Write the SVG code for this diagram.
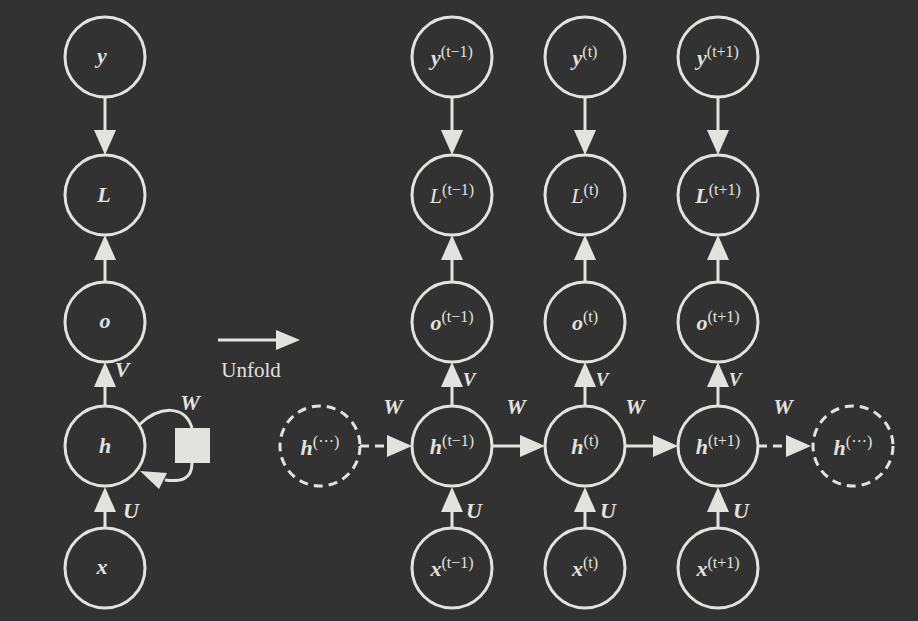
<svg xmlns="http://www.w3.org/2000/svg" width="918" height="621" viewBox="0 0 918 621">
<style>
.n{fill:none;stroke:#e2e2de;stroke-width:3}
.d{fill:none;stroke:#e2e2de;stroke-width:3;stroke-dasharray:9,6}
.l{stroke:#e2e2de;stroke-width:3;fill:none}
.h{fill:#e2e2de}
text{font-family:'Liberation Serif','DejaVu Serif','Times New Roman',serif;fill:#e2e2de;font-size:22px;text-anchor:middle}
.v{font-weight:bold;font-style:italic}
.s{font-size:16px;font-weight:normal;font-style:normal}
</style>
<rect width="918" height="621" fill="#323232"/>
<g id="connectors">
<line class="l" x1="105" y1="97" x2="105" y2="132"/><polygon class="h" points="94,130 116,130 105,155"/>
<line class="l" x1="105" y1="282" x2="105" y2="258"/><polygon class="h" points="94,260 116,260 105,235"/>
<line class="l" x1="105" y1="406" x2="105" y2="385"/><polygon class="h" points="94,387 116,387 105,362"/>
<line class="l" x1="105" y1="528" x2="105" y2="510"/><polygon class="h" points="94,512 116,512 105,487"/>
<path class="l" d="M139,425 C160,405 185,405 192,428"/>
<path class="l" d="M192,463 C192,480 180,482 165,480"/>
<polygon class="h" points="140,471 167,473 159,489"/>
<rect x="175" y="428" width="35" height="35" class="h"/>
<line class="l" x1="218" y1="340" x2="278" y2="340"/><polygon class="h" points="276,330 276,350 300,340"/>
<g id="cols">
<line class="l" x1="452" y1="97" x2="452" y2="132"/><polygon class="h" points="441,130 463,130 452,155"/>
<line class="l" x1="452" y1="282" x2="452" y2="258"/><polygon class="h" points="441,260 463,260 452,235"/>
<line class="l" x1="452" y1="406" x2="452" y2="385"/><polygon class="h" points="441,387 463,387 452,362"/>
<line class="l" x1="452" y1="528" x2="452" y2="510"/><polygon class="h" points="441,512 463,512 452,487"/>
<line class="l" x1="585" y1="97" x2="585" y2="132"/><polygon class="h" points="574,130 596,130 585,155"/>
<line class="l" x1="585" y1="282" x2="585" y2="258"/><polygon class="h" points="574,260 596,260 585,235"/>
<line class="l" x1="585" y1="406" x2="585" y2="385"/><polygon class="h" points="574,387 596,387 585,362"/>
<line class="l" x1="585" y1="528" x2="585" y2="510"/><polygon class="h" points="574,512 596,512 585,487"/>
<line class="l" x1="718" y1="97" x2="718" y2="132"/><polygon class="h" points="707,130 729,130 718,155"/>
<line class="l" x1="718" y1="282" x2="718" y2="258"/><polygon class="h" points="707,260 729,260 718,235"/>
<line class="l" x1="718" y1="406" x2="718" y2="385"/><polygon class="h" points="707,387 729,387 718,362"/>
<line class="l" x1="718" y1="528" x2="718" y2="510"/><polygon class="h" points="707,512 729,512 718,487"/>
</g>
<line class="d" x1="360" y1="446" x2="390" y2="446" stroke-dasharray="8,6"/><polygon class="h" points="387,435 387,457 412,446"/>
<line class="l" x1="492" y1="446" x2="522" y2="446"/><polygon class="h" points="520,435 520,457 545,446"/>
<line class="l" x1="625" y1="446" x2="655" y2="446"/><polygon class="h" points="653,435 653,457 678,446"/>
<line class="d" x1="758" y1="446" x2="788" y2="446" stroke-dasharray="8,6"/><polygon class="h" points="786,435 786,457 811,446"/>
</g>
<g id="edge-labels">
<text class="v" x="122" y="377">V</text>
<text class="v" x="190" y="410">W</text>
<text class="v" x="131" y="518">U</text>
<text x="251" y="377" style="font-size:21px">Unfold</text>
<text class="v" x="393" y="414">W</text>
<text class="v" x="516" y="414">W</text>
<text class="v" x="635" y="414">W</text>
<text class="v" x="783" y="414">W</text>
<text class="v" x="469" y="386" style="font-size:19px">V</text>
<text class="v" x="602" y="386" style="font-size:19px">V</text>
<text class="v" x="735" y="386" style="font-size:19px">V</text>
<text class="v" x="474" y="518">U</text>
<text class="v" x="608" y="518">U</text>
<text class="v" x="741" y="518">U</text>
</g>
<g id="n-y"><circle class="n" cx="105" cy="57" r="40"/><text class="v" x="102" y="63">y</text></g>
<g id="n-L"><circle class="n" cx="105" cy="195" r="40"/><text class="v" x="104" y="202">L</text></g>
<g id="n-o"><circle class="n" cx="105" cy="322" r="40"/><text class="v" x="105" y="328">o</text></g>
<g id="n-h"><circle class="n" cx="105" cy="446" r="40"/><text class="v" x="105" y="453">h</text></g>
<g id="n-x"><circle class="n" cx="105" cy="568" r="40"/><text class="v" x="102" y="574">x</text></g>
<g id="n-hl"><circle class="d" cx="320" cy="446" r="40"/><text class="v" x="320" y="455">h<tspan class="s" dy="-8">(···)</tspan></text></g>
<g id="n-hr"><circle class="d" cx="853" cy="446" r="40"/><text class="v" x="853" y="455">h<tspan class="s" dy="-8">(···)</tspan></text></g>
<g id="c1">
<circle class="n" cx="452" cy="57" r="40"/><text class="v" x="452" y="65">y<tspan class="s" dy="-8">(t−1)</tspan></text>
<circle class="n" cx="452" cy="195" r="40"/><text x="452" y="203" style="font-style:italic">L<tspan class="s" dy="-8">(t−1)</tspan></text>
<circle class="n" cx="452" cy="322" r="40"/><text class="v" x="452" y="330">o<tspan class="s" dy="-8">(t−1)</tspan></text>
<circle class="n" cx="452" cy="446" r="40"/><text class="v" x="452" y="454">h<tspan class="s" dy="-8">(t−1)</tspan></text>
<circle class="n" cx="452" cy="568" r="40"/><text class="v" x="452" y="576">x<tspan class="s" dy="-8">(t−1)</tspan></text>
</g>
<g id="c2">
<circle class="n" cx="585" cy="57" r="40"/><text class="v" x="585" y="65">y<tspan class="s" dy="-8">(t)</tspan></text>
<circle class="n" cx="585" cy="195" r="40"/><text x="585" y="203" style="font-style:italic">L<tspan class="s" dy="-8">(t)</tspan></text>
<circle class="n" cx="585" cy="322" r="40"/><text class="v" x="585" y="330">o<tspan class="s" dy="-8">(t)</tspan></text>
<circle class="n" cx="585" cy="446" r="40"/><text class="v" x="585" y="454">h<tspan class="s" dy="-8">(t)</tspan></text>
<circle class="n" cx="585" cy="568" r="40"/><text class="v" x="585" y="576">x<tspan class="s" dy="-8">(t)</tspan></text>
</g>
<g id="c3">
<circle class="n" cx="718" cy="57" r="40"/><text class="v" x="718" y="65">y<tspan class="s" dy="-8">(t+1)</tspan></text>
<circle class="n" cx="718" cy="195" r="40"/><text class="v" x="718" y="203">L<tspan class="s" dy="-8">(t+1)</tspan></text>
<circle class="n" cx="718" cy="322" r="40"/><text class="v" x="718" y="330">o<tspan class="s" dy="-8">(t+1)</tspan></text>
<circle class="n" cx="718" cy="446" r="40"/><text class="v" x="718" y="454">h<tspan class="s" dy="-8">(t+1)</tspan></text>
<circle class="n" cx="718" cy="568" r="40"/><text class="v" x="718" y="576">x<tspan class="s" dy="-8">(t+1)</tspan></text>
</g>
</svg>
